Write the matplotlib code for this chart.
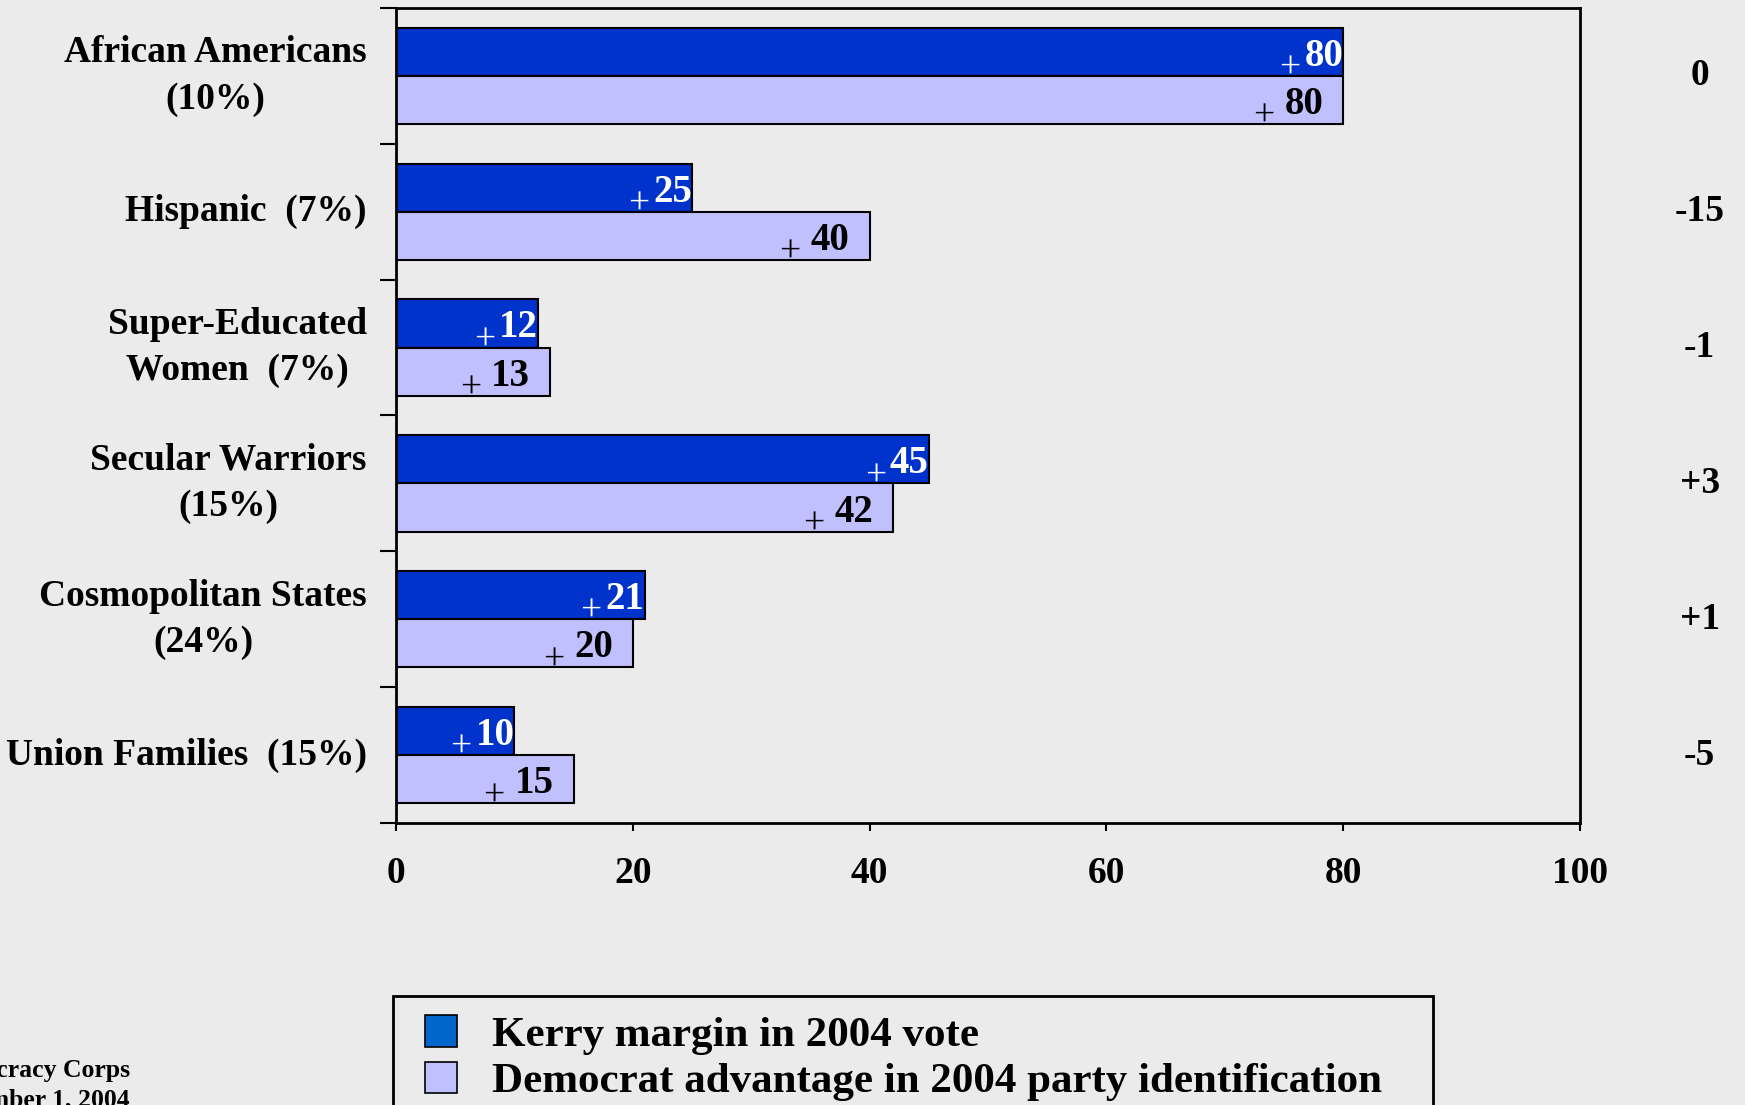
import matplotlib
matplotlib.use("Agg")
import matplotlib.pyplot as plt
import matplotlib.patches as mpatches
from matplotlib.legend_handler import HandlerPatch
import numpy as np

groups = ["African Americans\n(10%)", "Hispanic  (7%)", "Super-Educated\nWomen  (7%)",
          "Secular Warriors\n(15%)", "Cosmopolitan States\n(24%)", "Union Families  (15%)"]
kerry_margin = [80, 25, 12, 45, 21, 10]
party_id = [80, 40, 13, 42, 20, 15]
gap_labels = ["0", "-15", "-1", "+3", "+1", "-5"]
x_ticks = [0, 20, 40, 60, 80, 100]
legend_labels = ["Kerry margin in 2004 vote", "Democrat advantage in 2004 party identification"]

BG = "#EBEBEB"
DARK = "#0033CC"
LIGHT = "#C0C0FF"

plt.rcParams['font.family'] = ['Liberation Serif', 'DejaVu Serif']
plt.rcParams['font.weight'] = 'bold'

W, H = 1745, 1105
fig = plt.figure(figsize=(W / 100, H / 100), dpi=100, facecolor=BG)
ax = fig.add_axes([396 / W, 1 - 823 / H, (1580 - 396) / W, (823 - 8) / H])
ax.set_facecolor(BG)

n = len(groups)
centers = np.arange(n) + 0.5
h = 0.355
ax.barh(centers - h / 2, kerry_margin, height=h, color=DARK, edgecolor="black", linewidth=1.5)
ax.barh(centers + h / 2, party_id, height=h, color=LIGHT, edgecolor="black", linewidth=1.5)

ax.set_xlim(0, 100)
ax.set_ylim(n, 0)

# value labels: bold number plus a thin "+" sign in front
fs = 27
for i in range(n):
    for val, yy, col, pad, sp in [(kerry_margin[i], centers[i] - h / 2, "white", 0, 4),
                                  (party_id[i], centers[i] + h / 2, "black", 20, 10)]:
        t = ax.annotate(str(val), xy=(val, yy), xytext=(-pad, 0), textcoords="offset pixels",
                        ha="right", va="center_baseline", fontsize=28, color=col, fontweight="bold")
        ax.annotate("+", xy=(0, 0), xycoords=t, xytext=(-sp, -3), textcoords="offset pixels",
                    ha="right", va="baseline", fontsize=fs, color=col, fontweight="normal")

# right-hand column
for i, g in enumerate(gap_labels):
    ax.text(1.101, centers[i], g, transform=ax.get_yaxis_transform(), ha="center", va="center",
            fontsize=fs, fontweight="bold", clip_on=False)

# ticks
ax.set_yticks(np.arange(n + 1))
ax.set_yticklabels([])
ax.set_yticks(centers, groups, minor=True)
ax.tick_params(axis="y", which="major", length=11.5, width=1.5, direction="out")
ax.tick_params(axis="y", which="minor", length=0, pad=21, labelsize=fs)
for t in ax.get_yticklabels(minor=True):
    t.set_multialignment("center")
    t.set_linespacing(1.42)
    t.set_verticalalignment("center")
    t.set_fontweight("bold")

ax.set_xticks(x_ticks, [str(v) for v in x_ticks])
ax.tick_params(axis="x", length=6, width=1.5, direction="out", pad=18, labelsize=fs)
for t in ax.get_xticklabels():
    t.set_fontweight("bold")

for s in ax.spines.values():
    s.set_linewidth(2)
    s.set_color("black")


def swatch(legend, orig_handle, xdescent, ydescent, width, height, fontsize):
    shift = 9
    return mpatches.Rectangle((shift - xdescent, -ydescent), width - shift, height)


handles = [mpatches.Patch(facecolor="#0066CC", edgecolor="black", linewidth=1.2),
           mpatches.Patch(facecolor=LIGHT, edgecolor="black", linewidth=1.2)]
leg = fig.legend(handles, legend_labels, loc="upper left",
                 bbox_to_anchor=(393 / W, 1 - 996 / H, (1433 - 393) / W, 0), mode="expand",
                 prop={"family": "Liberation Serif", "weight": "bold", "size": 31},
                 frameon=True, fancybox=False, edgecolor="black", facecolor=BG, framealpha=1,
                 borderpad=0.45, labelspacing=0.15, handlelength=1.04, handleheight=0.75,
                 handletextpad=0.8, borderaxespad=0,
                 handler_map={mpatches.Patch: HandlerPatch(patch_func=swatch)})
leg.get_frame().set_linewidth(2)

fig.text(130 / W, 1 - 1077 / H, "Democracy Corps", ha="right", va="baseline", fontsize=18.5, fontweight="bold")
fig.text(130 / W, 1 - 1106 / H, "November 1, 2004", ha="right", va="baseline", fontsize=18.5, fontweight="bold")

fig.savefig("out.png", dpi=100, facecolor=BG)
